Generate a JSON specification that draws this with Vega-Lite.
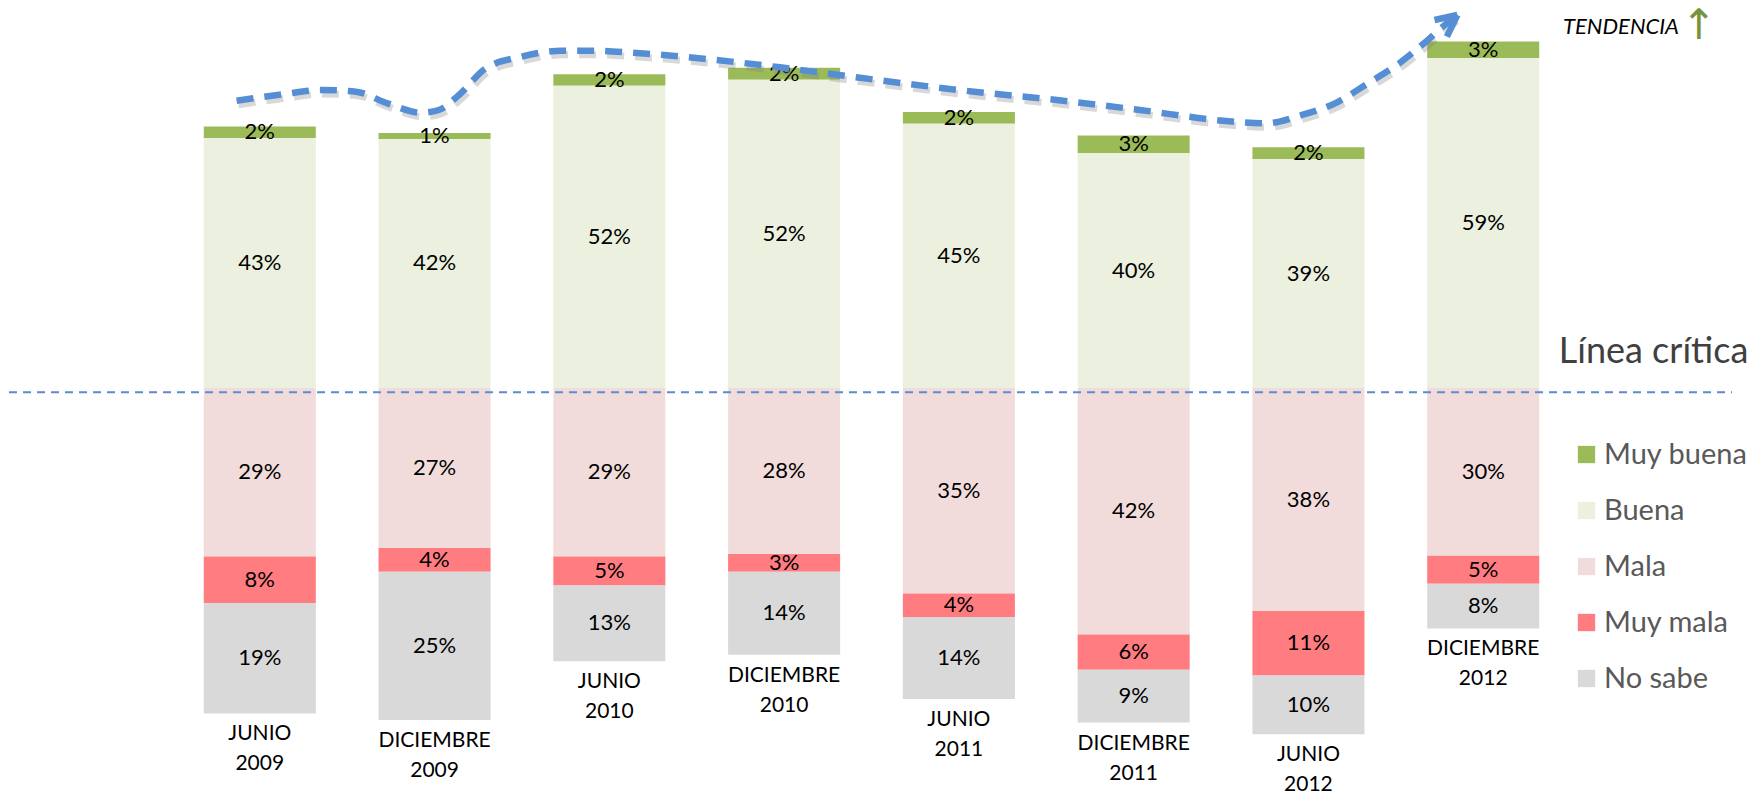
{
  "$schema": "https://vega.github.io/schema/vega-lite/v6.json",
  "width": 1685,
  "height": 800,
  "autosize": "none",
  "padding": {"left": 29, "right": 40, "top": 0, "bottom": 0},
  "background": "white",
  "config": {"view": {"stroke": null}, "font": "Lato"},
  "datasets": {
    "encuesta": [
      {"periodo": "JUNIO 2009", "categoria": "Muy buena", "valor": 2},
      {"periodo": "JUNIO 2009", "categoria": "Buena", "valor": 43},
      {"periodo": "JUNIO 2009", "categoria": "Mala", "valor": 29},
      {"periodo": "JUNIO 2009", "categoria": "Muy mala", "valor": 8},
      {"periodo": "JUNIO 2009", "categoria": "No sabe", "valor": 19},
      {"periodo": "DICIEMBRE 2009", "categoria": "Muy buena", "valor": 1},
      {"periodo": "DICIEMBRE 2009", "categoria": "Buena", "valor": 42},
      {"periodo": "DICIEMBRE 2009", "categoria": "Mala", "valor": 27},
      {"periodo": "DICIEMBRE 2009", "categoria": "Muy mala", "valor": 4},
      {"periodo": "DICIEMBRE 2009", "categoria": "No sabe", "valor": 25},
      {"periodo": "JUNIO 2010", "categoria": "Muy buena", "valor": 2},
      {"periodo": "JUNIO 2010", "categoria": "Buena", "valor": 52},
      {"periodo": "JUNIO 2010", "categoria": "Mala", "valor": 29},
      {"periodo": "JUNIO 2010", "categoria": "Muy mala", "valor": 5},
      {"periodo": "JUNIO 2010", "categoria": "No sabe", "valor": 13},
      {"periodo": "DICIEMBRE 2010", "categoria": "Muy buena", "valor": 2},
      {"periodo": "DICIEMBRE 2010", "categoria": "Buena", "valor": 52},
      {"periodo": "DICIEMBRE 2010", "categoria": "Mala", "valor": 28},
      {"periodo": "DICIEMBRE 2010", "categoria": "Muy mala", "valor": 3},
      {"periodo": "DICIEMBRE 2010", "categoria": "No sabe", "valor": 14},
      {"periodo": "JUNIO 2011", "categoria": "Muy buena", "valor": 2},
      {"periodo": "JUNIO 2011", "categoria": "Buena", "valor": 45},
      {"periodo": "JUNIO 2011", "categoria": "Mala", "valor": 35},
      {"periodo": "JUNIO 2011", "categoria": "Muy mala", "valor": 4},
      {"periodo": "JUNIO 2011", "categoria": "No sabe", "valor": 14},
      {"periodo": "DICIEMBRE 2011", "categoria": "Muy buena", "valor": 3},
      {"periodo": "DICIEMBRE 2011", "categoria": "Buena", "valor": 40},
      {"periodo": "DICIEMBRE 2011", "categoria": "Mala", "valor": 42},
      {"periodo": "DICIEMBRE 2011", "categoria": "Muy mala", "valor": 6},
      {"periodo": "DICIEMBRE 2011", "categoria": "No sabe", "valor": 9},
      {"periodo": "JUNIO 2012", "categoria": "Muy buena", "valor": 2},
      {"periodo": "JUNIO 2012", "categoria": "Buena", "valor": 39},
      {"periodo": "JUNIO 2012", "categoria": "Mala", "valor": 38},
      {"periodo": "JUNIO 2012", "categoria": "Muy mala", "valor": 11},
      {"periodo": "JUNIO 2012", "categoria": "No sabe", "valor": 10},
      {"periodo": "DICIEMBRE 2012", "categoria": "Muy buena", "valor": 3},
      {"periodo": "DICIEMBRE 2012", "categoria": "Buena", "valor": 59},
      {"periodo": "DICIEMBRE 2012", "categoria": "Mala", "valor": 30},
      {"periodo": "DICIEMBRE 2012", "categoria": "Muy mala", "valor": 5},
      {"periodo": "DICIEMBRE 2012", "categoria": "No sabe", "valor": 8}
    ],
    "tendencia": [
      {"i": 0.869, "v": 48.94},
      {"i": 1.132, "v": 50.03},
      {"i": 1.349, "v": 50.77},
      {"i": 1.552, "v": 50.48},
      {"i": 1.732, "v": 48.5},
      {"i": 1.924, "v": 46.9},
      {"i": 2.026, "v": 47.36},
      {"i": 2.141, "v": 49.91},
      {"i": 2.294, "v": 54.46},
      {"i": 2.498, "v": 56.44},
      {"i": 2.728, "v": 57.46},
      {"i": 2.931, "v": 57.46},
      {"i": 3.137, "v": 57.12},
      {"i": 3.572, "v": 56.0},
      {"i": 3.978, "v": 54.63},
      {"i": 4.388, "v": 53.03},
      {"i": 5.088, "v": 50.48},
      {"i": 5.562, "v": 49.06},
      {"i": 6.037, "v": 47.36},
      {"i": 6.512, "v": 45.54},
      {"i": 6.75, "v": 45.09},
      {"i": 6.964, "v": 46.51},
      {"i": 7.153, "v": 48.5},
      {"i": 7.341, "v": 51.91},
      {"i": 7.507, "v": 55.03},
      {"i": 7.673, "v": 59.0},
      {"i": 7.793, "v": 62.13},
      {"i": 7.845, "v": 63.3}
    ],
    "flecha": [
      {"xa": 7.722, "va": 62.69, "xb": 7.853, "vb": 63.54},
      {"xa": 7.793, "va": 59.85, "xb": 7.853, "vb": 63.54}
    ]
  },
  "layer": [
    {
      "data": {"name": "encuesta"},
      "transform": [
        {"joinaggregate": [{"op": "sum", "field": "valor", "as": "total"}], "groupby": ["periodo"]},
        {"calculate": "(indexof(['Mala','Muy mala','No sabe'], datum.categoria) >= 0 ? -1 : 1) * datum.valor * 100 / datum.total", "as": "s"},
        {"calculate": "indexof(['Buena','Muy buena','Mala','Muy mala','No sabe'], datum.categoria)", "as": "orden"},
        {"stack": "s", "groupby": ["periodo"], "sort": [{"field": "orden", "order": "ascending"}], "as": ["y0", "y1"]},
        {"calculate": "(datum.y0 + datum.y1) / 2", "as": "ym"},
        {"calculate": "datum.valor + '%'", "as": "etiqueta"}
      ],
      "encoding": {
        "x": {
          "field": "periodo",
          "type": "nominal",
          "axis": null,
          "sort": ["JUNIO 2009", "DICIEMBRE 2009", "JUNIO 2010", "DICIEMBRE 2010", "JUNIO 2011", "DICIEMBRE 2011", "JUNIO 2012", "DICIEMBRE 2012"],
          "scale": {"paddingInner": 0.359, "paddingOuter": 1, "align": 0.5}
        }
      },
      "layer": [
        {
          "mark": {"type": "bar"},
          "encoding": {
            "y": {"field": "y0", "type": "quantitative", "axis": null, "scale": {"domain": [-70.19, 66.1], "nice": false, "zero": false}},
            "y2": {"field": "y1"},
            "color": {
              "field": "categoria",
              "type": "nominal",
              "scale": {
                "domain": ["Muy buena", "Buena", "Mala", "Muy mala", "No sabe"],
                "range": ["#9BBB59", "#EBF1DE", "#F2DCDB", "#FF7C80", "#D9D9D9"]
              },
              "legend": {
                "title": null,
                "orient": "none",
                "legendX": 1543,
                "legendY": 440,
                "padding": 0,
                "symbolType": "square",
                "symbolSize": 300,
                "symbolStrokeWidth": 0,
                "symbolOpacity": 1,
                "labelFont": "Lato",
                "labelFontSize": 29,
                "labelColor": "#595959",
                "labelOffset": 3,
                "rowPadding": 26
              }
            }
          }
        },
        {
          "mark": {"type": "text", "fontSize": 22, "color": "#000000", "baseline": "middle", "align": "center"},
          "encoding": {
            "y": {"field": "ym", "type": "quantitative", "scale": {"domain": [-70.19, 66.1], "nice": false, "zero": false}},
            "text": {"field": "etiqueta"}
          }
        },
        {
          "transform": [
            {"filter": "datum.s < 0"},
            {"aggregate": [{"op": "min", "field": "y1", "as": "fondo"}], "groupby": ["periodo"]}
          ],
          "mark": {"type": "text", "fontSize": 21, "lineBreak": " ", "lineHeight": 30, "baseline": "top", "align": "center", "dy": 10, "color": "#000000"},
          "encoding": {
            "y": {"field": "fondo", "type": "quantitative", "scale": {"domain": [-70.19, 66.1], "nice": false, "zero": false}},
            "text": {"field": "periodo"}
          }
        }
      ]
    },
    {
      "data": {"values": [{}]},
      "layer": [
        {
          "mark": {"type": "rule", "color": "#5B8BD0", "strokeWidth": 2, "strokeDash": [8, 6]},
          "encoding": {
            "x": {"datum": -0.433, "type": "quantitative", "axis": null, "scale": {"domain": [-0.3187, 9.321], "nice": false, "zero": false}},
            "x2": {"datum": 9.424},
            "y": {"datum": -0.73, "type": "quantitative", "scale": {"domain": [-70.19, 66.1], "nice": false, "zero": false}}
          }
        },
        {
          "mark": {"type": "text", "text": "Línea crítica", "fontSize": 36, "color": "#404040", "align": "center", "baseline": "alphabetic"},
          "encoding": {
            "x": {"datum": 8.975, "type": "quantitative", "axis": null, "scale": {"domain": [-0.3187, 9.321], "nice": false, "zero": false}},
            "y": {"datum": 4.26, "type": "quantitative", "scale": {"domain": [-70.19, 66.1], "nice": false, "zero": false}}
          }
        },
        {
          "mark": {"type": "text", "text": "TENDENCIA", "fontSize": 22, "fontStyle": "italic", "color": "#000000", "align": "center", "baseline": "alphabetic"},
          "encoding": {
            "x": {"datum": 8.789, "type": "quantitative", "axis": null, "scale": {"domain": [-0.3187, 9.321], "nice": false, "zero": false}},
            "y": {"datum": 60.26, "type": "quantitative", "scale": {"domain": [-70.19, 66.1], "nice": false, "zero": false}}
          }
        },
        {
          "mark": {"type": "text", "text": "↑", "font": "DejaVu Sans", "fontSize": 42, "color": "#77933C", "align": "center", "baseline": "alphabetic"},
          "encoding": {
            "x": {"datum": 9.235, "type": "quantitative", "axis": null, "scale": {"domain": [-0.3187, 9.321], "nice": false, "zero": false}},
            "y": {"datum": 59.4, "type": "quantitative", "scale": {"domain": [-70.19, 66.1], "nice": false, "zero": false}}
          }
        },
        {
          "data": {"name": "tendencia"},
          "mark": {"type": "line", "color": "#7F7F7F", "opacity": 0.3, "strokeWidth": 7, "strokeDash": [17, 11], "interpolate": "monotone", "xOffset": 2, "yOffset": 4},
          "encoding": {
            "x": {"field": "i", "type": "quantitative", "axis": null, "scale": {"domain": [-0.3187, 9.321], "nice": false, "zero": false}},
            "y": {"field": "v", "type": "quantitative", "scale": {"domain": [-70.19, 66.1], "nice": false, "zero": false}}
          }
        },
        {
          "data": {"name": "tendencia"},
          "mark": {"type": "line", "color": "#558ED5", "strokeWidth": 6.5, "strokeDash": [17, 11], "interpolate": "monotone"},
          "encoding": {
            "x": {"field": "i", "type": "quantitative", "axis": null, "scale": {"domain": [-0.3187, 9.321], "nice": false, "zero": false}},
            "y": {"field": "v", "type": "quantitative", "scale": {"domain": [-70.19, 66.1], "nice": false, "zero": false}}
          }
        },
        {
          "data": {"name": "flecha"},
          "mark": {"type": "rule", "color": "#558ED5", "strokeWidth": 6.5, "strokeCap": "butt"},
          "encoding": {
            "x": {"field": "xa", "type": "quantitative", "axis": null, "scale": {"domain": [-0.3187, 9.321], "nice": false, "zero": false}},
            "x2": {"field": "xb"},
            "y": {"field": "va", "type": "quantitative", "scale": {"domain": [-70.19, 66.1], "nice": false, "zero": false}},
            "y2": {"field": "vb"}
          }
        }
      ]
    }
  ],
  "resolve": {"scale": {"x": "independent"}}
}
